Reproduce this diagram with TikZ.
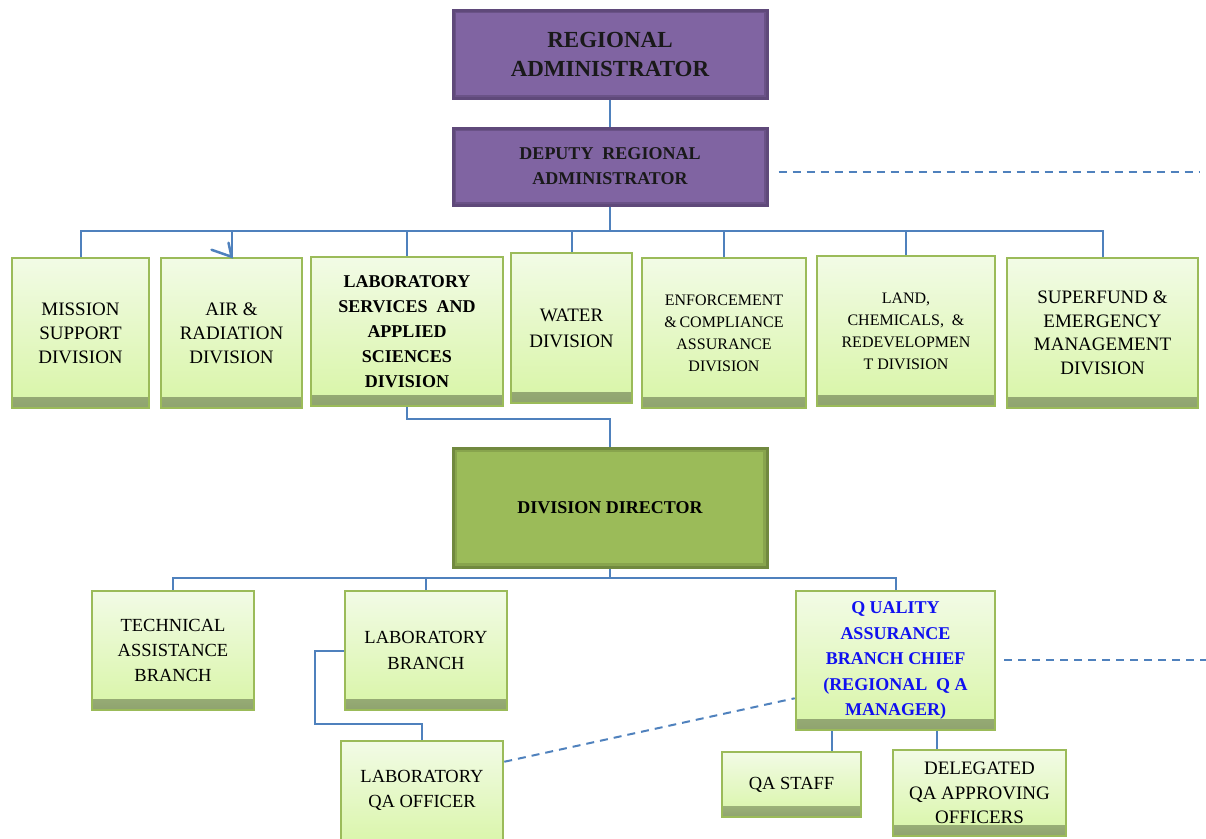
\documentclass[tikz,border=0pt]{standalone}
\usepackage{fontspec}
\setmainfont{Liberation Serif}
\usetikzlibrary{calc,arrows.meta}

\definecolor{linkblue}{HTML}{4F81BD}
\definecolor{purplefill}{HTML}{8064A2}
\definecolor{purpleedge}{HTML}{5F497A}
\definecolor{greenedge}{HTML}{9BBB59}
\definecolor{greentop}{HTML}{F2FBE6}
\definecolor{greenbot}{HTML}{D8F5A6}
\definecolor{greenband}{HTML}{8FA36F}
\definecolor{ddfill}{HTML}{9BBB59}
\definecolor{ddedge}{HTML}{71893F}
\definecolor{qablue}{HTML}{1010F0}

\newcommand{\fs}[2]{\fontsize{#1}{#2}\selectfont}

\tikzset{
  x=1pt, y=-1pt,
  every node/.style={inner sep=0pt, align=center},
  pbox/.style={draw=purpleedge, line width=3pt, fill=purplefill, text=black!90,
    font=\bfseries\fs{23}{29},
    path picture={\draw[purpleedge!70!black, opacity=0.35, line width=6pt]
      (path picture bounding box.south west) rectangle (path picture bounding box.north east);}},
  gbox/.style={draw=greenedge, line width=2.5pt, top color=greentop, bottom color=greenbot,
    font=\fs{19}{24},
    path picture={\fill[top color=greenbot, bottom color=greenband]
      (path picture bounding box.south west) rectangle ([yshift=11pt]path picture bounding box.south east);}},
  ddbox/.style={draw=ddedge, line width=3pt, fill=ddfill, font=\bfseries\fs{18}{24},
    path picture={\draw[ddedge, opacity=0.45, line width=8pt]
      (path picture bounding box.south west) rectangle (path picture bounding box.north east);}},
  link/.style={draw=linkblue, line width=2pt},
  dlink/.style={link, dash pattern=on 8pt off 6pt},
}

\begin{document}
\begin{tikzpicture}
\useasboundingbox (0,0) rectangle (1206,838);

% executive level
\node[pbox, minimum width=314, minimum height=88] (ra) at (610,54) {REGIONAL\\ADMINISTRATOR};
\node[pbox, minimum width=314, minimum height=77, font=\bfseries\fs{18}{25}] (dra) at (610,166.5)
  {DEPUTY\ \ REGIONAL\\ADMINISTRATOR};

% divisions
\node[gbox, minimum width=137, minimum height=150] (mission) at (80.5,333) {MISSION\\SUPPORT\\DIVISION};
\node[gbox, minimum width=141, minimum height=150] (air) at (231.5,333) {AIR \&\\RADIATION\\DIVISION};
\node[gbox, minimum width=192, minimum height=149, font=\bfseries\fs{18}{25}] (lss) at (407,331.5)
  {LABORATORY\\SERVICES\ \ AND\\APPLIED\\SCIENCES\\DIVISION};
\node[gbox, minimum width=121, minimum height=150, font=\fs{19}{26}] (water) at (571.5,328) {WATER\\DIVISION};
\node[gbox, minimum width=164, minimum height=150, font=\fs{16}{22}] (enf) at (724,333)
  {ENFORCEMENT\\\&\,COMPLIANCE\\ASSURANCE\\DIVISION};
\node[gbox, minimum width=178, minimum height=150, font=\fs{16}{22}] (land) at (906,331)
  {LAND,\\CHEMICALS,\ \ \&\\REDEVELOPMEN\\T DIVISION};
\node[gbox, minimum width=191, minimum height=150, font=\fs{19}{23.5}] (sf) at (1102.5,333)
  {SUPERFUND \&\\EMERGENCY\\MANAGEMENT\\DIVISION};

% division director and branches
\node[ddbox, minimum width=314, minimum height=119] (dd) at (610,507.5) {DIVISION DIRECTOR};
\node[gbox, minimum width=162, minimum height=119, font=\fs{18.5}{25}] (tech) at (173,650.5)
  {TECHNICAL\\ASSISTANCE\\BRANCH};
\node[gbox, minimum width=162, minimum height=119, font=\fs{18.5}{26}] (labbr) at (426,650.5)
  {LABORATORY\\BRANCH};
\node[gbox, minimum width=199, minimum height=139, font=\bfseries\fs{18}{25.5}, text=qablue] (qac) at (895.5,660.5)
  {Q UALITY\\ASSURANCE\\BRANCH CHIEF\\(REGIONAL\ \ Q A\\MANAGER)};
\node[gbox, minimum width=162, minimum height=110] (labqa) at (422,796) {};
\node[font=\fs{18.5}{25}] (labqatxt) at (422,790) {LABORATORY\\QA OFFICER};
\node[gbox, minimum width=139, minimum height=65, font=\fs{18.5}{24}] (qastaff) at (791.5,784.5) {QA STAFF};
\node[gbox, minimum width=173, minimum height=86, font=\fs{19}{24.5}] (deleg) at (979.5,793)
  {DELEGATED\\QA APPROVING\\OFFICERS};

% bus levels
\coordinate (bus1) at (0,231);
\coordinate (bus2) at (0,578);
\coordinate (draline) at (1200,172);
\coordinate (qaline) at (1206,660);

% reporting lines
\draw[link] (ra.south) -- (dra.north);
\draw[link] (dra.south) -- (dra.south |- bus1);
\draw[link] (mission.north) -- (mission.north |- bus1) -- (sf.north |- bus1) -- (sf.north);
\draw[link] (air.north |- bus1) -- (air.north);
\draw[link, line width=2.5pt, line cap=round] ($(air.north)+(-20,-7)$) -- (air.north) -- ($(air.north)+(-3,-14)$);
\draw[link] (lss.north |- bus1) -- (lss.north);
\draw[link] (water.north |- bus1) -- (water.north);
\draw[link] (enf.north |- bus1) -- (enf.north);
\draw[link] (land.north |- bus1) -- (land.north);

\draw[link] (lss.south) -- ++(0,12) -| (dd.north);

\draw[link] (dd.south) -- (dd.south |- bus2);
\draw[link] (tech.north) -- (tech.north |- bus2) -- (qac.north |- bus2) -- (qac.north);
\draw[link] (labbr.north |- bus2) -- (labbr.north);

\draw[link] (labbr.west) -- ++(-29,0) |- ($(labqa.north)+(0,-16)$) -- (labqa.north);

\draw[link] ([xshift=40.5pt]qastaff.north) -- ([xshift=40.5pt]qastaff.north |- qac.south);
\draw[link] ([xshift=-42.5pt]deleg.north) -- ([xshift=-42.5pt]deleg.north |- qac.south);

% dotted-line relationships
\draw[dlink] ($(dra.east |- draline)+(10,0)$) -- (draline);
\draw[dlink] ($(qac.east |- qaline)+(8,0)$) -- (qaline);
\draw[dlink] ($(labqa.north east)+(0,22)$) -- ($(qac.south west)+(0,-33)$);
\end{tikzpicture}
\end{document}
